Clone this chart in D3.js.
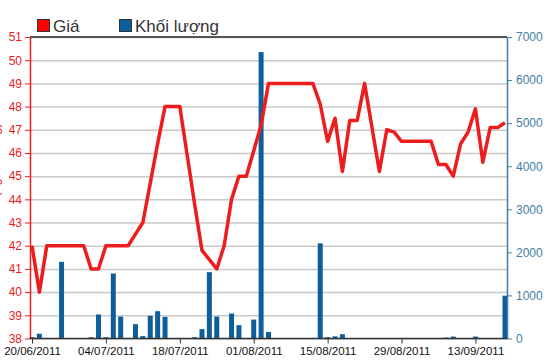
<!DOCTYPE html>
<html>
<head>
<meta charset="utf-8">
<script src="https://cdn.jsdelivr.net/npm/d3@7"></script>
<style>
  body { margin: 0; background: #fff; }
  svg { font-family: 'Liberation Sans', Arial, sans-serif; }
</style>
</head>
<body>
<div id="chart"></div>
<script>
// trading days (02/09 is a holiday)
const dates = [
  '20/06/2011','21/06/2011','22/06/2011','23/06/2011','24/06/2011',
  '27/06/2011','28/06/2011','29/06/2011','30/06/2011','01/07/2011',
  '04/07/2011','05/07/2011','06/07/2011','07/07/2011','08/07/2011',
  '11/07/2011','12/07/2011','13/07/2011','14/07/2011','15/07/2011',
  '18/07/2011','19/07/2011','20/07/2011','21/07/2011','22/07/2011',
  '25/07/2011','26/07/2011','27/07/2011','28/07/2011','29/07/2011',
  '01/08/2011','02/08/2011','03/08/2011','04/08/2011','05/08/2011',
  '08/08/2011','09/08/2011','10/08/2011','11/08/2011','12/08/2011',
  '15/08/2011','16/08/2011','17/08/2011','18/08/2011','19/08/2011',
  '22/08/2011','23/08/2011','24/08/2011','25/08/2011','26/08/2011',
  '29/08/2011','30/08/2011','31/08/2011','01/09/2011','05/09/2011',
  '06/09/2011','07/09/2011','08/09/2011','09/09/2011','12/09/2011',
  '13/09/2011','14/09/2011','15/09/2011','16/09/2011','19/09/2011'
]

const price = [
  42, 40, 42, 42, 42, 42, 42, 42, 41, 41,
  42, 42, 42, 42, 42.5, 43, 44.7, 46.4, 48, 48,
  48, 45.9, 43.8, 41.8, 41.4, 41, 42, 44, 45, 45,
  46.1, 47.2, 49, 49, 49, 49, 49, 49, 49, 48.1,
  46.5, 47.5, 45.2, 47.4, 47.4, 49, 47.1, 45.2, 47, 46.9,
  46.5, 46.5, 46.5, 46.5, 46.5, 45.5, 45.5, 45, 46.4, 46.9,
  47.9, 45.6, 47.1, 47.1, 47.3
]

const volume = [
  30, 110, 0, 0, 1780, 0, 0, 0, 30, 557,
  30, 1510, 510, 0, 333, 55, 527, 635, 503, 0,
  0, 0, 30, 217, 1540, 510, 0, 580, 310, 0,
  440, 6650, 150, 0, 0, 0, 0, 0, 0, 2210,
  30, 50, 100, 0, 0, 0, 0, 0, 0, 0,
  0, 0, 0, 0, 0, 0, 20, 45, 0, 0,
  45, 0, 0, 0, 995
]

const priceTicks = d3.range(38, 52)
const volumeTicks = [0, 1000, 2000, 3000, 4000, 5000, 6000, 7000]
const legendLabels = ['Giá', 'Khối lượng']

const red = '#ee1c1c'
const blue = '#0f5e9c'
const axisBlue = '#3f7ea6'

const width = 550, height = 364
const plot = { left: 30, right: 507, top: 37, bottom: 338.5 }

const svg = d3.select('#chart')
  .append('svg')
  .attr('width', width)
  .attr('height', height)

const x = d3.scaleLinear().domain([0, dates.length - 1]).range([32, 505])
const yP = d3.scaleLinear().domain([38, 51]).range([plot.bottom, plot.top])
const yV = d3.scaleLinear().domain([0, 7000]).range([plot.bottom, plot.top])

// gridlines
svg.append('g')
  .attr('transform', `translate(${plot.left}, 0)`)
  .call(d3.axisLeft(yP).tickValues(priceTicks).tickSize(-(plot.right - plot.left)).tickFormat(''))
  .call(g => g.select('.domain').remove())
  .call(g => g.selectAll('line').attr('stroke', '#c9c9c9').attr('stroke-width', 1.5))

// top border
svg.append('line')
  .attr('x1', plot.left).attr('x2', plot.right)
  .attr('y1', plot.top).attr('y2', plot.top)
  .attr('stroke', '#555').attr('stroke-width', 2)

// volume bars
const barW = 5
svg.append('g')
  .selectAll('rect')
  .data(volume.map((v, i) => ({ i, v })).filter(d => d.v > 0))
  .join('rect')
  .attr('x', d => x(d.i) - barW / 2)
  .attr('y', d => yV(d.v))
  .attr('width', barW)
  .attr('height', d => plot.bottom - yV(d.v))
  .attr('fill', blue)

// price line
svg.append('path')
  .datum(price)
  .attr('fill', 'none')
  .attr('stroke', red)
  .attr('stroke-width', 3.5)
  .attr('stroke-linejoin', 'round')
  .attr('d', d3.line().x((d, i) => x(i)).y(d => yP(d)))

// left axis
const gl = svg.append('g')
  .attr('transform', `translate(${plot.left}, 0)`)
  .call(d3.axisLeft(yP).tickValues(priceTicks).tickSize(5).tickPadding(3).tickSizeOuter(0))
gl.select('.domain').attr('stroke', red).attr('stroke-width', 1.5)
gl.selectAll('line').attr('stroke', red)
gl.selectAll('text').attr('fill', red).style('font-size', '12px')

// right axis
const gr = svg.append('g')
  .attr('transform', `translate(${plot.right}, 0)`)
  .call(d3.axisRight(yV).tickValues(volumeTicks).tickFormat(d3.format('d'))
    .tickSize(5).tickPadding(4).tickSizeOuter(0))
gr.select('.domain').attr('stroke', axisBlue).attr('stroke-width', 1.5)
gr.selectAll('line').attr('stroke', axisBlue)
gr.selectAll('text').attr('fill', axisBlue).style('font-size', '12px')

// bottom axis
const gb = svg.append('g')
  .attr('transform', `translate(0, ${plot.bottom})`)
  .call(d3.axisBottom(x)
    .tickValues(d3.range(0, dates.length, 10))
    .tickFormat(i => dates[i])
    .tickSize(5).tickPadding(3).tickSizeOuter(0))
gb.select('.domain').attr('d', `M${plot.left},0H${plot.right}`).attr('stroke', '#333').attr('stroke-width', 1.5)
gb.selectAll('line').attr('stroke', '#333')
gb.selectAll('text').attr('fill', '#111').style('font-size', '11.5px')

// left axis title, clipped by the left edge as in the original
svg.append('text')
  .attr('transform', `translate(-1.5, 172) rotate(-90)`)
  .attr('text-anchor', 'middle')
  .attr('fill', red)
  .style('font-size', '13px')
  .text('Giá (nghìn đồng)')

// legend
const legend = svg.append('g').attr('transform', 'translate(37, 19)')
const legendX = [0, 82]
legendLabels.forEach((label, k) => {
  const g = legend.append('g').attr('transform', `translate(${legendX[k]}, 0)`)
  g.append('rect')
    .attr('x', 0.5).attr('y', 0.5)
    .attr('width', 12).attr('height', 12)
    .attr('fill', k === 0 ? '#f00' : blue)
    .attr('stroke', '#333')
  g.append('text')
    .attr('x', 16).attr('y', 12.5)
    .attr('fill', '#333')
    .style('font-size', '17px')
    .text(label)
})
</script>
</body>
</html>
